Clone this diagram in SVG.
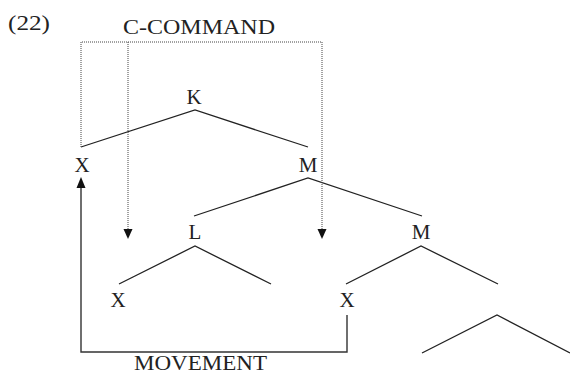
<svg xmlns="http://www.w3.org/2000/svg" width="570" height="375" viewBox="0 0 570 375">
<style>
text{font-family:"Liberation Serif","Times New Roman",serif;fill:#222;}
.lbl{font-size:21px;text-anchor:middle;}
.big{font-size:21px;}
.edge{stroke:#222;stroke-width:1.3;fill:none;}
.dot{stroke:#444;stroke-width:1;stroke-dasharray:1 1;fill:none;}
.mv{stroke:#333;stroke-width:1.4;fill:none;}
.head{fill:#111;}
</style>
<rect width="570" height="375" fill="#fff"/>
<text class="big" x="8" y="30" textLength="42" lengthAdjust="spacingAndGlyphs">(22)</text>
<text class="big" x="123" y="34" textLength="152" lengthAdjust="spacingAndGlyphs">C-COMMAND</text>
<text class="big" x="134" y="370" style="font-size:20px" textLength="133" lengthAdjust="spacingAndGlyphs">MOVEMENT</text>
<g id="connectors">
<path class="edge" d="M81,147 L195,110 L308,147"/>
<path class="edge" d="M194,216 L308,178 L422,216"/>
<path class="edge" d="M119,284 L195,246 L271,284"/>
<path class="edge" d="M346,284 L421,246 L498,284"/>
<path class="edge" d="M422,353 L497,315 L570,353"/>
<path class="dot" d="M81,147 V42 H322 V229"/>
<path class="dot" d="M128,42 V229"/>
<polygon class="head" points="123.5,229 132.5,229 128,239"/>
<polygon class="head" points="317.5,229 326.5,229 322,239"/>
<path class="mv" d="M347,315 V352 H81 V186"/>
<polygon class="head" points="76.5,188 85.5,188 81,177"/>
</g>
<g id="node-K"><text class="lbl" x="194" y="104">K</text></g>
<g id="node-X1"><text class="lbl" x="82" y="172">X</text></g>
<g id="node-M1"><text class="lbl" x="308" y="172">M</text></g>
<g id="node-L"><text class="lbl" x="195" y="239">L</text></g>
<g id="node-M2"><text class="lbl" x="421" y="239">M</text></g>
<g id="node-X2"><text class="lbl" x="118" y="307">X</text></g>
<g id="node-X3"><text class="lbl" x="347" y="307">X</text></g>
</svg>
